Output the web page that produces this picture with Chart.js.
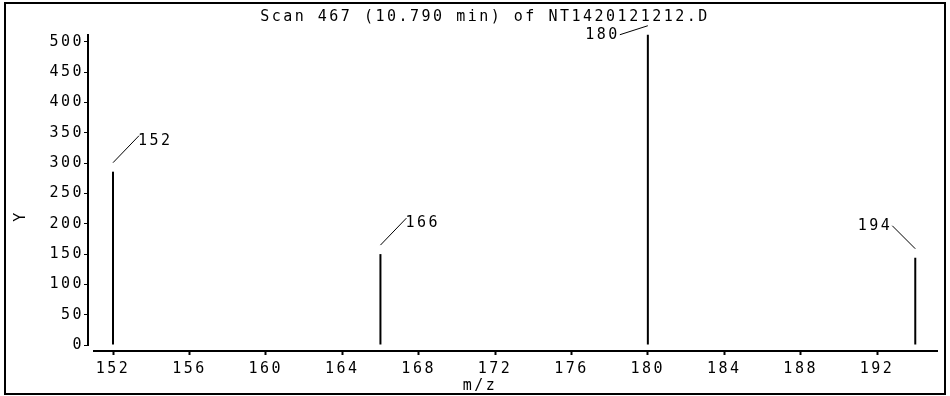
<!DOCTYPE html>
<html>
<head>
<meta charset="utf-8">
<script src="https://cdn.jsdelivr.net/npm/chart.js@4.4.0/dist/chart.umd.min.js"></script>
<style>
html, body { margin: 0; padding: 0; background: #fff; }
</style>
</head>
<body>
<canvas id="myChart" width="950" height="396"></canvas>
<script>
//----------------- DATOS -----------------
var mzValues = [152, 166, 180, 194];
var abundance = [286, 150, 512, 144];
var peakLabels = ['152', '166', '180', '194'];
var xTicks = [152, 156, 160, 164, 168, 172, 176, 180, 184, 188, 192];
var yTicks = [0, 50, 100, 150, 200, 250, 300, 350, 400, 450, 500];
var chartTitle = 'Scan 467 (10.790 min) of NT1420121212.D';
var xTitle = 'm/z';
var yTitle = 'Y';

//----------------- ESTILO -----------------
var fuente = { family: 'DejaVu Sans Mono', size: 15 };
var fuenteCss = '15px "DejaVu Sans Mono"';
var espaciado = '2.5px';

//----------------- PLUGIN -----------------
// dibuja marco, ejes, titulos y etiquetas de picos (estilo ChemStation)
var chemPlugin = {
    id: 'chemstation',
    beforeDraw: function (chart) {
        chart.ctx.letterSpacing = espaciado;
    },
    afterDraw: function (chart) {
        var ctx = chart.ctx;
        var a = chart.chartArea;
        var xs = chart.scales.x;
        var ys = chart.scales.y;
        ctx.save();
        ctx.letterSpacing = espaciado;
        ctx.strokeStyle = '#000';
        ctx.fillStyle = '#000';

        // marco
        ctx.lineWidth = 2;
        ctx.strokeRect(5, 3, 940, 391);

        // eje y
        ctx.beginPath();
        ctx.moveTo(a.left, a.top);
        ctx.lineTo(a.left, ys.getPixelForValue(0) + 1);
        ctx.stroke();

        // eje x
        ctx.beginPath();
        ctx.moveTo(a.left + 5, a.bottom + 1);
        ctx.lineTo(a.right, a.bottom + 1);
        ctx.stroke();

        // titulos
        ctx.font = fuenteCss;
        ctx.textAlign = 'center';
        ctx.textBaseline = 'middle';
        ctx.fillText(chartTitle, 485, 17);
        ctx.fillText(xTitle, 480, 386);

        ctx.save();
        ctx.translate(21, 216);
        ctx.rotate(-Math.PI / 2);
        ctx.fillText(yTitle, 0, 0);
        ctx.restore();

        // etiquetas de picos
        ctx.lineWidth = 1;
        for (var i = 0; i < mzValues.length; i++) {
            var px = xs.getPixelForValue(mzValues[i]);
            var py = ys.getPixelForValue(abundance[i]);
            var w = ctx.measureText(peakLabels[i]).width;
            var sy = py - 9;
            var ex = px + 26;
            var ey = py - 36;
            var izq = false;
            if (ey - 8 < a.top) {
                ex = px - 28;
                ey = py;
                izq = true;
            } else if (ex + w > a.right) {
                ex = px - 23;
                ey = py - 32;
                izq = true;
            }
            ctx.beginPath();
            ctx.moveTo(px, sy);
            ctx.lineTo(ex, ey);
            ctx.stroke();
            if (izq) {
                ctx.textAlign = 'right';
                ctx.fillText(peakLabels[i], ex, ey);
            } else {
                ctx.textAlign = 'left';
                ctx.fillText(peakLabels[i], ex - 1, ey + 5);
            }
        }
        ctx.restore();
    }
};

//----------------- GRAFICO -----------------
var puntos = mzValues.map(function (v, i) { return { x: v, y: abundance[i] }; });

var ctx = document.getElementById('myChart').getContext('2d');
var myChart = new Chart(ctx, {
    type: 'bar',
    data: {
        datasets: [{
            data: puntos,
            backgroundColor: '#000',
            borderWidth: 0,
            inflateAmount: 0,
            barThickness: 2
        }]
    },
    options: {
        responsive: false,
        animation: false,
        devicePixelRatio: 1,
        layout: { padding: { left: 9, right: 12, top: 34, bottom: 0 } },
        plugins: {
            legend: { display: false },
            tooltip: { enabled: false },
            title: { display: false }
        },
        scales: {
            x: {
                type: 'linear',
                min: 150.69,
                max: 195.19,
                offset: false,
                border: { display: false },
                grid: {
                    offset: false,
                    drawOnChartArea: false,
                    drawTicks: true,
                    tickLength: 5,
                    tickWidth: 2,
                    color: '#000'
                },
                ticks: {
                    font: fuente,
                    color: '#000',
                    padding: 5,
                    autoSkip: false,
                    maxRotation: 0
                },
                afterBuildTicks: function (s) {
                    s.ticks = xTicks.map(function (v) { return { value: v }; });
                },
                afterFit: function (s) { s.height = 46; }
            },
            y: {
                type: 'linear',
                min: -8.25,
                max: 513.2,
                border: { display: false },
                grid: {
                    drawOnChartArea: false,
                    drawTicks: true,
                    tickLength: 4,
                    tickWidth: 1,
                    color: '#000'
                },
                ticks: {
                    font: fuente,
                    color: '#000',
                    padding: 0
                },
                title: { display: false },
                afterBuildTicks: function (s) {
                    s.ticks = yTicks.map(function (v) { return { value: v }; });
                },
                afterFit: function (s) { s.width = 79; }
            }
        }
    },
    plugins: [chemPlugin]
});
</script>
</body>
</html>
